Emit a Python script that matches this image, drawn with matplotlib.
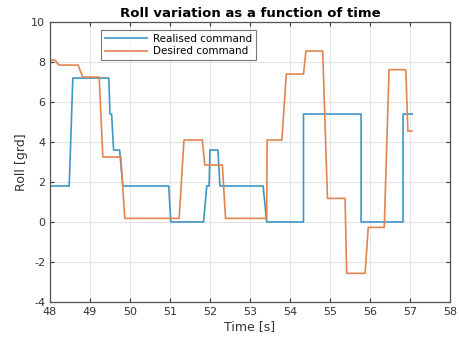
import matplotlib
matplotlib.use("Agg")
import matplotlib.pyplot as plt

plt.rcParams["axes.unicode_minus"] = False

# Realised command (blue)
t_real = [48.0, 48.48, 48.57, 49.47, 49.50, 49.54, 49.59, 49.74, 49.82, 50.97, 51.02,
          51.84, 51.92, 51.98, 52.00, 52.20, 52.25, 53.33, 53.42, 54.34, 54.34,
          55.78, 55.78, 56.83, 56.83, 57.06]
v_real = [1.8, 1.8, 7.2, 7.2, 5.4, 5.4, 3.6, 3.6, 1.8, 1.8, 0.0,
          0.0, 1.8, 1.8, 3.6, 3.6, 1.8, 1.8, 0.0, 0.0, 5.4,
          5.4, 0.0, 0.0, 5.4, 5.4]

# Desired command (orange)
t_des = [48.0, 48.12, 48.22, 48.70, 48.82, 49.23, 49.32, 49.77, 49.87, 51.23, 51.35,
         51.81, 51.87, 52.31, 52.39, 53.42, 53.43, 53.80, 53.91, 54.34, 54.40,
         54.82, 54.94, 55.38, 55.42, 55.88, 55.96, 56.36, 56.48, 56.90, 56.95, 57.05]
v_des = [8.1, 8.1, 7.85, 7.85, 7.25, 7.25, 3.25, 3.25, 0.18, 0.18, 4.1,
         4.1, 2.85, 2.85, 0.18, 0.18, 4.1, 4.1, 7.4, 7.4, 8.55,
         8.55, 1.18, 1.18, -2.57, -2.57, -0.27, -0.27, 7.62, 7.62, 4.55, 4.55]

xticks = list(range(48, 59))
yticks = list(range(-4, 11, 2))

fig = plt.figure(figsize=(4.59, 3.40), dpi=100)
ax = fig.add_axes([0.109, 0.112, 0.871, 0.823])
ax.plot(t_real, v_real, color="#3d97c4", lw=1.2, label="Realised command")
ax.plot(t_des, v_des, color="#e2844f", lw=1.2, label="Desired command")
ax.set_xlim(48, 58)
ax.set_ylim(-4, 10)
ax.set_xticks(xticks)
ax.set_yticks(yticks)
ax.grid(True, color="#e3e3e3", lw=0.8)
ax.tick_params(labelsize=8, colors="#333333", direction="in", length=3,
               top=True, right=True)
for s in ax.spines.values():
    s.set_color("#555555")
    s.set_linewidth(0.9)
ax.set_title("Roll variation as a function of time", fontsize=9.5, fontweight="bold", pad=4)
ax.set_xlabel("Time [s]", fontsize=9, color="#333333", labelpad=2)
ax.set_ylabel("Roll [grd]", fontsize=9, color="#333333", labelpad=2)
leg = ax.legend(loc="upper left", bbox_to_anchor=(0.115, 0.99), fontsize=7.5,
                frameon=True, fancybox=False, edgecolor="#555555", handlelength=4.0,
                borderpad=0.35, labelspacing=0.25, handletextpad=0.6)
leg.get_frame().set_linewidth(0.8)
fig.savefig("out.png", dpi=100)
